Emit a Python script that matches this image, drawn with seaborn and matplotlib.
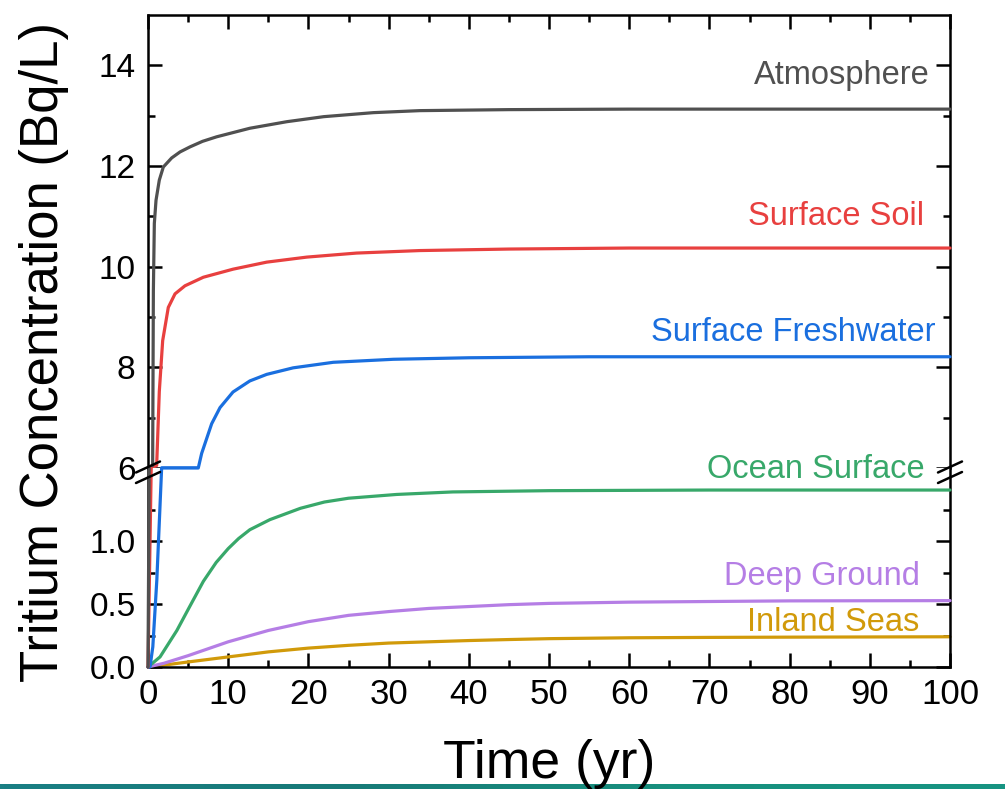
import numpy as np
import seaborn as sns
import matplotlib.pyplot as plt
from matplotlib.lines import Line2D
from matplotlib.ticker import MultipleLocator, FixedLocator
from matplotlib.colors import LinearSegmentedColormap

# values (time in yr, concentration in Bq/L)
t_atm = [0, 0.15, 0.58, 0.67, 0.79, 1.0, 1.41, 1.91, 2.95, 4.0, 5.24, 6.8, 8.56, 12.7,
         17.3, 21.9, 28.1, 33.9, 45, 60, 100]
c_atm = [0, 1.6, 6.05, 9.52, 10.86, 11.32, 11.72, 11.98, 12.16, 12.28, 12.38, 12.49,
         12.58, 12.75, 12.88, 12.98, 13.06, 13.10, 13.12, 13.13, 13.13]

t_soil = [0, 0.4, 1.08, 1.41, 1.83, 2.53, 3.37, 4.61, 6.9, 10.6, 14.8, 19.8, 26.0,
          33.9, 45, 60, 100]
c_soil = [0, 1.6, 6.05, 7.52, 8.53, 9.19, 9.46, 9.62, 9.79, 9.95, 10.09, 10.19, 10.27,
          10.32, 10.35, 10.37, 10.37]

t_fresh = [0, 0.25, 0.6, 1.1, 1.7, 6.27, 6.69, 7.94, 8.98, 10.6, 12.7, 14.8, 18.1,
           23.1, 30.6, 40, 55, 100]
c_fresh = [0, 0.0, 0.16, 0.69, 1.6, 5.99, 6.29, 6.88, 7.2, 7.51, 7.73, 7.86, 7.99,
           8.10, 8.16, 8.19, 8.21, 8.21]

t_ocean = [0, 1.5, 3.6, 5.2, 6.9, 8.5, 10, 11.3, 12.7, 15.2, 19, 22, 25, 31, 38, 50, 70, 100]
c_ocean = [0, 0.08, 0.29, 0.48, 0.68, 0.83, 0.94, 1.02, 1.09, 1.17, 1.26, 1.31, 1.34,
           1.37, 1.39, 1.40, 1.405, 1.405]

t_deep = [0, 2, 5, 10, 15, 20, 25, 30, 35, 40, 45, 50, 60, 70, 80, 100]
c_deep = [0, 0.03, 0.09, 0.20, 0.29, 0.36, 0.41, 0.44, 0.465, 0.48, 0.495, 0.505,
          0.515, 0.52, 0.525, 0.527]

t_inland = [0, 2, 5, 10, 15, 20, 25, 30, 35, 40, 45, 50, 60, 70, 80, 100]
c_inland = [0, 0.015, 0.04, 0.08, 0.12, 0.15, 0.172, 0.19, 0.20, 0.21, 0.218, 0.225,
            0.232, 0.235, 0.237, 0.24]

names = ["Atmosphere", "Surface Soil", "Surface Freshwater", "Ocean Surface",
         "Deep Ground", "Inland Seas"]
colors = ["#505050", "#e8403f", "#1a6fdf", "#38a86a", "#b57ee5", "#d19a0a"]

sns.set_style("ticks")
plt.rcParams["font.family"] = ["Liberation Sans", "DejaVu Sans"]
plt.rcParams.update({"text.color": "black", "axes.edgecolor": "black",
                     "xtick.color": "black", "ytick.color": "black",
                     "axes.labelcolor": "black"})

W, H = 1005, 789
fig = plt.figure(figsize=(W / 100, H / 100), dpi=100)
L, R = 148 / W, 950 / W
brk = 468
ax_top = fig.add_axes([L, 1 - brk / H, R - L, (brk - 15) / H])
ax_bot = fig.add_axes([L, 1 - 667 / H, R - L, (667 - brk) / H])

top_lo, top_hi = 6, 15
bot_lo, bot_hi = 0, 1.58

series = [(t_atm, c_atm), (t_soil, c_soil), (t_fresh, c_fresh),
          (t_ocean, c_ocean), (t_deep, c_deep), (t_inland, c_inland)]

for i, ((t, c), col) in enumerate(zip(series, colors)):
    t = np.array(t, dtype=float)
    c = np.array(c, dtype=float)
    z = 3 - i * 0.1
    # lower panel: values in the gap sit on the break line
    m = c < top_lo
    sns.lineplot(x=t[m], y=np.minimum(c[m], bot_hi), ax=ax_bot, color=col, lw=2.3,
                 clip_on=False, zorder=z)
    # upper panel
    m = c > bot_hi
    if c.max() > top_lo:
        sns.lineplot(x=t[m], y=np.maximum(c[m], top_lo), ax=ax_top, color=col, lw=2.3,
                     clip_on=False, zorder=z)

for ax in (ax_top, ax_bot):
    ax.set_xlim(0, 100)
    ax.xaxis.set_major_locator(MultipleLocator(10))
    ax.xaxis.set_minor_locator(MultipleLocator(5))
    for s in ax.spines.values():
        s.set_linewidth(1.8)
    ax.tick_params(which="both", direction="in", width=1.8, right=True)
    ax.tick_params(axis="y", labelsize=24)
    ax.tick_params(axis="x", labelsize=25)
    ax.tick_params(which="major", length=10, pad=9)
    ax.tick_params(which="minor", length=5)

ax_top.set_ylim(top_lo, top_hi)
ax_top.yaxis.set_major_locator(FixedLocator([6, 8, 10, 12, 14]))
ax_top.yaxis.set_minor_locator(FixedLocator([7, 9, 11, 13]))
ax_top.spines["bottom"].set_visible(False)
ax_top.tick_params(which="both", top=True, bottom=False, labelbottom=False)

ax_bot.set_ylim(bot_lo, bot_hi)
ax_bot.yaxis.set_major_locator(FixedLocator([0, 0.5, 1.0]))
ax_bot.yaxis.set_minor_locator(FixedLocator([0.25, 0.75, 1.25]))
ax_bot.yaxis.set_major_formatter(plt.FormatStrFormatter("%.1f"))
ax_bot.spines["top"].set_visible(False)
ax_bot.tick_params(which="both", top=False, bottom=True)
ax_bot.tick_params(axis="x", pad=8)

ax_bot.set_xlabel("Time (yr)", fontsize=38.5, labelpad=20)
ax_bot.set_ylabel("")
ax_top.set_ylabel("")
fig.text(44 / W, 1 - 352 / H, "Tritium Concentration (Bq/L)", rotation=90,
         fontsize=38, ha="center", va="center")

# curve labels
fs = 23.5
ax_top.text(97.5, 13.79, names[0], color=colors[0], fontsize=fs, ha="right", va="center")
ax_top.text(96.8, 11.0, names[1], color=colors[1], fontsize=fs, ha="right", va="center")
ax_top.text(98.2, 8.69, names[2], color=colors[2], fontsize=fs, ha="right", va="center")
ax_bot.text(96.8, 1.57, names[3], color=colors[3], fontsize=fs, ha="right", va="center",
            clip_on=False, zorder=5)
ax_bot.text(96.2, 0.72, names[4], color=colors[4], fontsize=fs, ha="right", va="center")
ax_bot.text(96.2, 0.357, names[5], color=colors[5], fontsize=fs, ha="right", va="center")

# axis break marks
for xc in (148, 950):
    for yc in (467, 477.5):
        fig.add_artist(Line2D([(xc - 12) / W, (xc + 12) / W],
                              [1 - (yc + 5.5) / H, 1 - (yc - 5.5) / H],
                              color="black", lw=1.8))

# teal strip along the bottom edge
strip = fig.add_axes([0, 0, 1, 5 / H], zorder=-1)
cmap = LinearSegmentedColormap.from_list("strip", ["#1a7f84", "#177a78", "#17907e", "#169482"])
strip.imshow(np.linspace(0, 1, 256)[None, :], aspect="auto", cmap=cmap)
strip.axis("off")

fig.savefig("out.png", dpi=100)
